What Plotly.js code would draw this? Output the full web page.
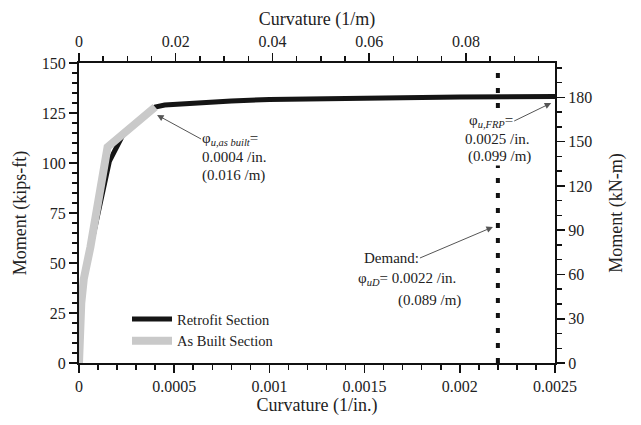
<!DOCTYPE html>
<html><head><meta charset="utf-8">
<script src="https://cdn.plot.ly/plotly-3.0.1.min.js"></script>
<style>html,body{margin:0;padding:0;background:#fff;}</style>
</head><body>
<div id="chart" style="width:641px;height:425px;"></div>
<script>
// Data (curvature in 1/in., moment in kips-ft)
const retrofitCurv = [0, 0.000005, 0.000012, 0.000025, 0.00006, 0.00016, 0.00023, 0.0004, 0.00045, 0.0006, 0.0008, 0.001, 0.0014, 0.002, 0.0025];
const retrofitMom  = [0, 15, 30, 42, 58, 101, 114, 128, 129, 130, 131, 131.8, 132.5, 133, 133.3];
const asBuiltCurv  = [0, 0.000005, 0.000012, 0.000025, 0.00006, 0.00015, 0.0004];
const asBuiltMom   = [0, 15, 30, 42, 58, 108, 128];
const demandCurv   = [0.0022, 0.0022];
const demandMom    = [0, 150];
const seriesNames  = ["Retrofit Section", "As Built Section"];
const IN_PER_M = 39.37;      // 1/in -> 1/m
const KNM_PER_KIPFT = 1.35582;
const xMax = 0.0025, yMax = 150;

const font = "'Times New Roman', 'Liberation Serif', serif";
const traces = [
  {x: demandCurv, y: demandMom, mode: 'lines', showlegend: false,
   line: {color: '#111', width: 4, dash: '5px,10px'}, hoverinfo: 'skip'},
  {x: retrofitCurv, y: retrofitMom, mode: 'lines', name: seriesNames[0],
   line: {color: '#151515', width: 5}},
  {x: asBuiltCurv, y: asBuiltMom, mode: 'lines', name: seriesNames[1],
   line: {color: '#c9c9c9', width: 8}},
  {x: [], y: [], xaxis: 'x2', yaxis: 'y2', showlegend: false, mode: 'lines'}
];

const axBase = {showgrid: false, zeroline: false, showline: true, linecolor: '#111', linewidth: 2,
  ticks: 'outside', ticklen: 8, tickwidth: 1.5, tickcolor: '#111',
  tickfont: {family: font, size: 16, color: '#222'}};

function pxX(px){ return (px - 79) / 476; }
function pxY(py){ return (363 - py) / 300; }

const annFont = {family: font, size: 15, color: '#222'};
const textAnn = (px, py, t, bg) => ({xref: 'paper', yref: 'paper', x: pxX(px), y: pxY(py),
  xanchor: 'left', yanchor: 'middle', text: t, showarrow: false, borderpad: 0,
  bgcolor: bg || 'rgba(0,0,0,0)', font: annFont});
// text whose arrow tail sits at the text box edge; head at data point (hx, hy)
const arrowAnn = (hx, hy, ax, ay, anchor, t, bg) => ({xref: 'x', yref: 'y', x: hx, y: hy,
  axref: 'pixel', ayref: 'pixel', ax: ax, ay: ay, xanchor: anchor, yanchor: 'middle',
  text: t, showarrow: true, arrowhead: 2, arrowsize: 1.3, arrowwidth: 1, arrowcolor: '#555',
  borderpad: 0, bgcolor: bg || 'rgba(0,0,0,0)', font: annFont});

const annotations = [
  arrowAnn(0.00041, 124, 44, 24, 'left', 'φ<sub><i>u,as built</i></sub>='),
  textAnn(201, 157, '0.0004 /in.'),
  textAnn(201, 175, '(0.016 /m)'),
  arrowAnn(0.00248, 130, -37, 18, 'right', 'φ<sub><i>u,FRP</i></sub>=', '#fff'),
  textAnn(464, 139, '0.0025 /in.', '#fff'),
  textAnn(467, 156, '(0.099 /m)', '#fff'),
  arrowAnn(0.002174, 68, -73, 31, 'right', 'Demand:'),
  textAnn(357, 279, 'φ<sub><i>uD</i></sub>= 0.0022 /in.'),
  textAnn(397, 300, '(0.089 /m)')
];

const layout = {
  width: 641, height: 425,
  margin: {l: 79, r: 86, t: 63, b: 62},
  paper_bgcolor: '#fff', plot_bgcolor: '#fff',
  font: {family: font, color: '#222'},
  showlegend: true,
  legend: {x: pxX(127), y: pxY(303), xanchor: 'left', yanchor: 'top', bgcolor: 'rgba(0,0,0,0)',
    font: {family: font, size: 14.5, color: '#222'}, tracegroupgap: 0, itemwidth: 40},
  xaxis: Object.assign({}, axBase, {range: [0, xMax], dtick: 0.0005,
    minor: {dtick: 0.0001, ticks: 'outside', ticklen: 5, tickcolor: '#111', tickwidth: 1.5},
    title: {text: 'Curvature (1/in.)', font: {family: font, size: 18, color: '#222'}, standoff: 4}}),
  yaxis: Object.assign({}, axBase, {range: [0, yMax], dtick: 25,
    minor: {dtick: 5, ticks: 'outside', ticklen: 5, tickcolor: '#111', tickwidth: 1.5},
    title: {text: 'Moment (kips-ft)', font: {family: font, size: 18, color: '#222'}, standoff: 10}}),
  xaxis2: Object.assign({}, axBase, {range: [0, xMax * IN_PER_M], dtick: 0.02, side: 'top',
    overlaying: 'x', anchor: 'y2',
    minor: {dtick: 0.005, ticks: 'outside', ticklen: 5, tickcolor: '#111', tickwidth: 1.5},
    title: {text: 'Curvature (1/m)', font: {family: font, size: 18, color: '#222'}, standoff: 2}}),
  yaxis2: Object.assign({}, axBase, {range: [0, yMax * KNM_PER_KIPFT], dtick: 30, side: 'right',
    overlaying: 'y', anchor: 'x2',
    minor: {dtick: 10, ticks: 'outside', ticklen: 5, tickcolor: '#111', tickwidth: 1.5},
    title: {text: 'Moment (kN-m)', font: {family: font, size: 18, color: '#222'}, standoff: 18}}),
  annotations: annotations
};

Plotly.newPlot('chart', traces, layout, {displayModeBar: false, staticPlot: true});
</script>
</body></html>
